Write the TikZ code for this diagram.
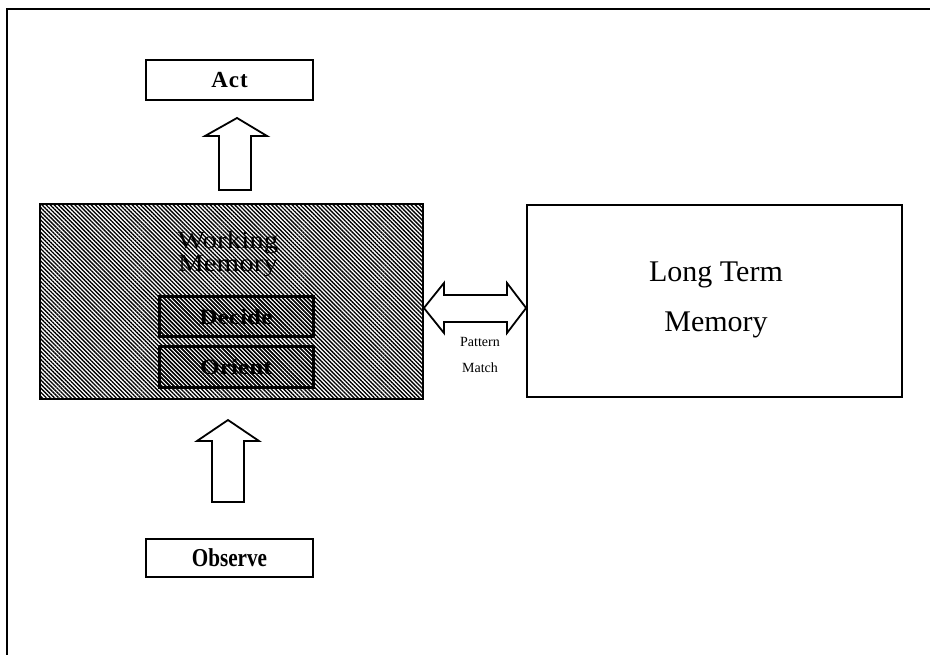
\documentclass[tikz,border=0pt]{standalone}
\usepackage{fontspec}
\setmainfont{Liberation Serif}
\usetikzlibrary{patterns.meta}
\begin{document}
\begin{tikzpicture}[x=1pt,y=-1pt,
  box/.style={draw=black, line width=2pt, fill=white, inner sep=0pt},
  labelbold/.style={font=\fontsize{23}{23}\selectfont\bfseries},
  hatched/.style={pattern={Lines[angle=-45,distance=2.9pt,line width=1.35pt]}, pattern color=black},
  hatchbox/.style={draw=black, line width=2pt, hatched, inner sep=0pt},
  blockarrow/.style={draw=black, line width=1.8pt, fill=white, line join=miter},
  small/.style={font=\fontsize{14}{14}\selectfont}]
\useasboundingbox (0,0) rectangle (930,655);

% page frame (top and left edges)
\draw[line width=2pt] (7,655) -- (7,9) -- (930,9);

% Act / Observe
\node[box, labelbold, minimum width=167pt, minimum height=40pt] (act) at (229.5,80.5) {A\hspace{1pt}c\hspace{1pt}t};
\node[box, labelbold, minimum width=167pt, minimum height=38pt] (observe) at (229.5,558) {\scalebox{0.92}[1.12]{Observe}};

% working memory with its two inner stages
\node[hatchbox, line width=1.8pt, minimum width=383pt, minimum height=195pt] (wm) at (231.5,301.5) {};
\node[font=\fontsize{29}{19}\selectfont, align=center, inner sep=0pt] (wmtext) at (228,254) {\scalebox{1}[0.85]{Working}\\\scalebox{1}[0.85]{Memory}};
\node[hatchbox, line width=3pt, labelbold, minimum width=154pt, minimum height=40pt] (decide) at (236,317) {\scalebox{1.1}[0.95]{Decide}};
\node[hatchbox, line width=3pt, labelbold, minimum width=154pt, minimum height=40pt] (orient) at (236,367) {\scalebox{1.1}[0.95]{Orient}};

% long term memory
\node[box, line width=1.8pt, minimum width=375pt, minimum height=192pt] (ltm) at (714.5,301) {};
\node[font=\fontsize{30}{50}\selectfont, align=center] (ltmtext) at (716,300) {Long Term\\Memory};

% block arrows
\draw[blockarrow] (219,190) -- (219,136) -- (205,136) -- (237,118) -- (267,136) -- (251,136) -- (251,190) -- cycle;
\draw[blockarrow] (212,502) -- (212,441) -- (197,441) -- (228,420) -- (259,441) -- (244,441) -- (244,502) -- cycle;
\draw[blockarrow] (wm.east |- 0,308) -- (444,283) -- (444,295) -- (507,295) -- (507,283)
  -- (ltm.west |- 0,308) -- (507,333) -- (507,322) -- (444,322) -- (444,333) -- cycle;

% pattern match label
\node[small] (pattern) at (480,342) {Pattern};
\node[small] (match) at (480,368) {Match};
\end{tikzpicture}
\end{document}
